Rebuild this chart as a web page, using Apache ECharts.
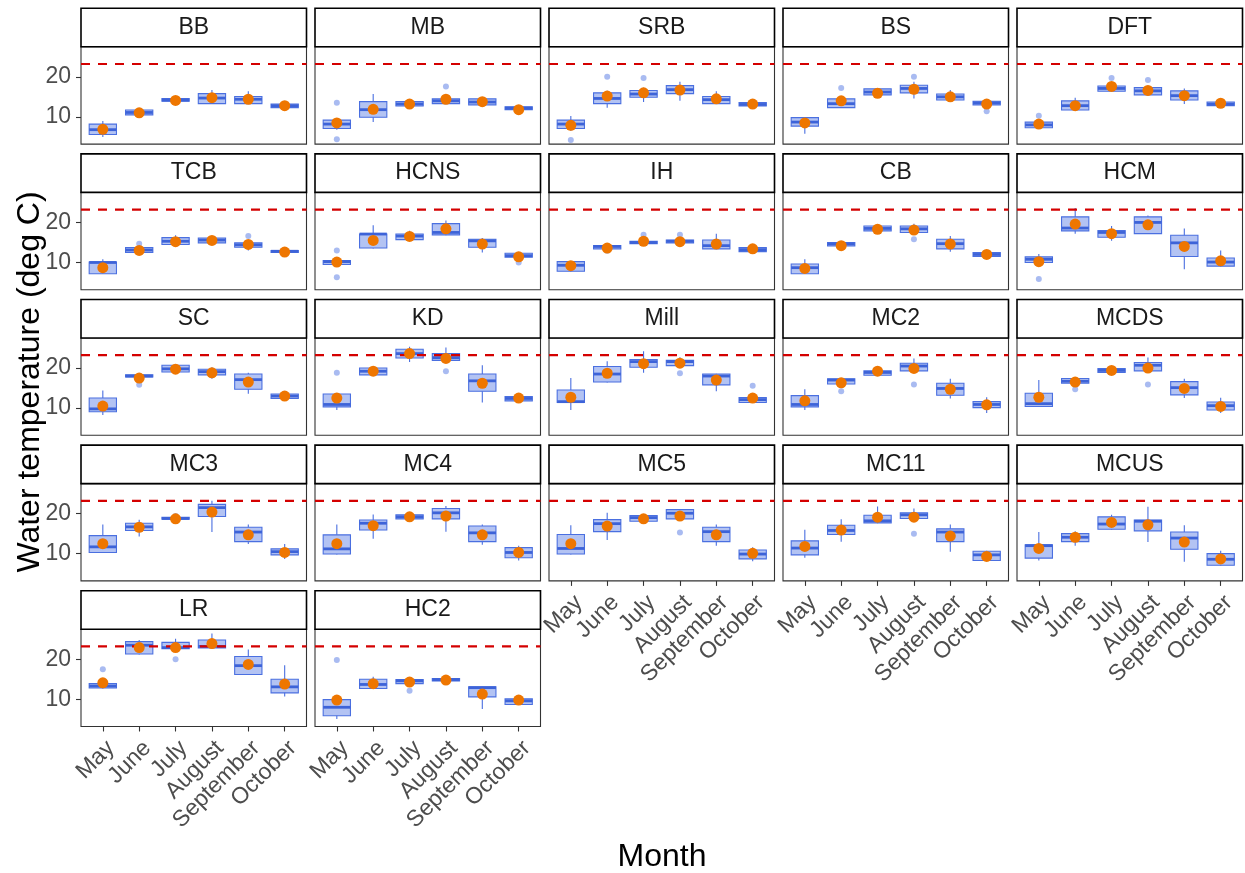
<!DOCTYPE html>
<html>
<head>
<meta charset="utf-8">
<script src="https://cdn.jsdelivr.net/npm/echarts@6/dist/echarts.min.js"></script>
<style>
  html, body { margin: 0; padding: 0; background: #ffffff; }
  #chart { width: 1245px; height: 873px; }
</style>
</head>
<body>
<div id="chart"></div>
<script>
// Monthly water temperature (deg C) by site: box summaries, monthly means, outliers.
const months = ['May', 'June', 'July', 'August', 'September', 'October'];
const yTicks = [10, 20];
const threshold = 23.2;

// Box rows per month: [lower whisker, Q1, median, Q3, upper whisker]
const BB_box = [[5.0, 5.6, 6.8, 8.2, 9.0], [10.3, 10.5, 11.1, 11.7, 11.9], [13.8, 13.9, 14.2, 14.6, 14.7], [13.2, 13.3, 14.7, 15.8, 16.7], [13.2, 13.3, 14.4, 15.1, 16.4], [12.2, 12.3, 12.8, 13.2, 13.3]];
const BB_mean = [6.9, 11.0, 14.1, 14.8, 14.4, 12.8];
const BB_out = [];

const MB_box = [[6.8, 7.1, 8.2, 9.2, 9.6], [8.7, 9.9, 11.8, 13.8, 15.7], [12.6, 12.7, 13.2, 13.8, 13.9], [13.2, 13.3, 14.0, 14.5, 15.2], [12.9, 13.0, 13.7, 14.5, 14.6], [11.7, 11.8, 12.2, 12.5, 12.6]];
const MB_mean = [8.5, 11.9, 13.2, 14.4, 13.8, 11.8];
const MB_out = [[0, 13.5], [0, 4.4], [3, 17.6]];

const SRB_box = [[6.5, 7.1, 8.2, 9.2, 10.2], [12.3, 13.3, 14.6, 16.0, 16.5], [13.7, 14.9, 15.7, 16.6, 17.3], [14.0, 15.8, 16.8, 17.8, 18.8], [13.2, 13.3, 14.3, 15.1, 16.4], [12.6, 12.7, 13.1, 13.6, 13.7]];
const SRB_mean = [7.9, 15.2, 16.0, 16.7, 14.5, 13.2];
const SRB_out = [[0, 4.2], [1, 20.0], [2, 19.7]];

const BS_box = [[5.8, 7.7, 8.7, 9.8, 9.9], [12.2, 12.3, 13.3, 14.5, 15.0], [15.4, 15.5, 16.2, 17.0, 17.1], [14.6, 16.0, 17.1, 17.9, 18.8], [14.1, 14.2, 15.0, 15.7, 16.7], [12.6, 13.0, 13.5, 13.9, 14.0]];
const BS_mean = [8.5, 14.0, 15.9, 16.9, 15.0, 13.2];
const BS_out = [[1, 17.2], [3, 20.0], [5, 11.4]];

const DFT_box = [[7.2, 7.3, 8.0, 8.7, 8.8], [11.6, 11.7, 12.8, 14.0, 14.8], [16.3, 16.4, 17.1, 17.7, 18.5], [15.4, 15.5, 16.5, 17.3, 17.4], [13.2, 14.2, 15.3, 16.5, 17.1], [12.7, 12.8, 13.2, 13.7, 13.8]];
const DFT_mean = [8.2, 12.8, 17.6, 16.6, 15.3, 13.4];
const DFT_out = [[0, 10.3], [2, 19.7], [3, 19.2]];

const TCB_box = [[7.1, 7.2, 10.0, 10.1, 10.8], [12.4, 12.5, 13.1, 13.7, 13.9], [14.4, 14.5, 15.3, 16.2, 16.8], [14.8, 14.9, 15.6, 16.1, 16.2], [13.0, 13.8, 14.4, 14.9, 15.0], [12.4, 12.5, 12.8, 13.0, 13.1]];
const TCB_mean = [8.7, 13.0, 15.2, 15.5, 14.5, 12.6];
const TCB_out = [[1, 14.7], [4, 16.6]];

const HCNS_box = [[9.4, 9.5, 10.2, 10.5, 10.6], [13.5, 13.6, 17.1, 17.1, 19.3], [15.6, 15.7, 16.6, 17.1, 17.9], [16.8, 16.9, 17.5, 19.7, 20.5], [12.5, 13.8, 15.4, 15.8, 16.1], [11.2, 11.3, 11.7, 12.3, 12.4]];
const HCNS_mean = [10.1, 15.5, 16.5, 18.4, 14.6, 11.4];
const HCNS_out = [[0, 13.0], [0, 6.3], [5, 10.0]];

const IH_box = [[7.7, 7.8, 9.3, 10.2, 10.3], [13.3, 13.4, 14.0, 14.2, 14.3], [14.6, 14.7, 15.0, 15.3, 15.4], [14.8, 14.9, 15.3, 15.6, 15.7], [13.3, 13.4, 14.2, 15.6, 17.2], [12.6, 12.7, 13.2, 13.7, 13.8]];
const IH_mean = [9.2, 13.6, 15.3, 15.2, 14.6, 13.4];
const IH_out = [[1, 12.9], [2, 16.9], [3, 16.9]];

const CB_box = [[7.1, 7.2, 8.7, 9.6, 10.8], [14.0, 14.1, 14.6, 15.0, 15.1], [17.8, 17.9, 18.5, 19.1, 19.2], [17.4, 17.5, 18.4, 19.1, 19.7], [12.7, 13.4, 14.7, 15.8, 16.6], [11.4, 11.5, 12.0, 12.5, 12.6]];
const CB_mean = [8.5, 14.2, 18.3, 18.1, 14.6, 12.0];
const CB_out = [[3, 15.8]];

const HCM_box = [[9.9, 10.0, 10.8, 11.4, 12.1], [17.2, 17.9, 18.6, 21.4, 23.6], [15.4, 16.3, 17.5, 18.0, 19.1], [17.1, 17.2, 20.0, 21.4, 21.7], [8.3, 11.5, 14.9, 16.8, 18.5], [9.0, 9.1, 10.1, 11.1, 13.0]];
const HCM_mean = [10.2, 19.6, 17.2, 19.4, 14.0, 10.4];
const HCM_out = [[0, 5.9]];

const SC_box = [[8.3, 9.1, 9.8, 12.5, 14.4], [17.7, 17.8, 18.0, 18.3, 18.4], [18.9, 19.0, 19.8, 20.7, 20.8], [17.3, 18.3, 19.1, 19.7, 20.2], [13.6, 14.7, 17.1, 18.5, 18.8], [12.3, 12.4, 13.0, 13.5, 13.6]];
const SC_mean = [10.5, 17.5, 19.7, 18.8, 16.5, 13.0];
const SC_out = [[1, 15.8]];

const KD_box = [[9.5, 10.3, 10.9, 13.5, 13.6], [18.2, 18.3, 19.2, 20.0, 20.1], [21.5, 22.5, 23.6, 24.7, 25.3], [21.8, 21.9, 22.6, 23.6, 25.1], [11.4, 14.2, 16.8, 18.5, 20.7], [11.7, 11.8, 12.4, 12.9, 13.0]];
const KD_mean = [12.5, 19.2, 23.6, 22.4, 16.2, 12.5];
const KD_out = [[0, 18.8], [3, 19.2]];

const Mill_box = [[9.5, 11.4, 11.6, 14.5, 17.5], [16.4, 16.5, 18.5, 20.4, 21.7], [18.8, 20.2, 21.6, 22.1, 24.2], [20.5, 20.6, 21.6, 21.9, 22.7], [14.2, 15.8, 18.0, 18.5, 18.6], [11.3, 11.4, 12.1, 12.6, 12.7]];
const Mill_mean = [12.7, 18.7, 21.1, 21.2, 17.0, 12.5];
const Mill_out = [[3, 18.7], [5, 15.6]];

const MC2_box = [[9.5, 10.3, 10.9, 13.1, 14.7], [15.9, 16.0, 17.0, 17.3, 17.4], [18.1, 18.2, 18.9, 19.3, 19.4], [19.2, 19.3, 20.5, 21.2, 22.4], [12.4, 13.2, 14.9, 16.2, 17.3], [8.8, 10.1, 10.9, 11.6, 12.7]];
const MC2_mean = [11.8, 16.3, 19.2, 19.9, 14.7, 10.8];
const MC2_out = [[1, 14.2], [3, 15.9]];

const MCDS_box = [[10.3, 10.4, 11.1, 13.7, 17.0], [16.1, 16.2, 16.7, 17.4, 17.5], [18.8, 18.9, 19.4, 19.9, 20.0], [19.2, 19.3, 20.7, 21.4, 22.6], [12.5, 13.3, 15.1, 16.6, 17.3], [8.8, 9.5, 10.6, 11.5, 12.6]];
const MCDS_mean = [12.7, 16.5, 19.4, 20.0, 14.9, 10.4];
const MCDS_out = [[1, 14.7], [3, 15.9]];

const MC3_box = [[10.2, 10.3, 11.7, 14.5, 17.3], [14.3, 15.8, 16.7, 17.6, 18.5], [18.5, 18.6, 18.8, 19.1, 19.2], [15.4, 19.3, 21.5, 22.3, 23.2], [12.4, 13.0, 15.4, 16.6, 17.3], [8.7, 9.7, 10.5, 11.2, 12.4]];
const MC3_mean = [12.5, 16.6, 18.7, 20.4, 14.7, 10.3];
const MC3_out = [[2, 19.4]];

const MC4_box = [[9.8, 9.9, 11.2, 14.7, 17.3], [13.7, 15.9, 17.6, 18.4, 19.8], [18.6, 18.7, 19.2, 19.7, 19.8], [15.5, 18.7, 20.2, 21.3, 21.9], [12.2, 13.0, 15.2, 16.9, 17.3], [8.3, 9.0, 10.3, 11.5, 12.0]];
const MC4_mean = [12.5, 17.0, 19.2, 19.4, 14.7, 10.3];
const MC4_out = [];

const MC5_box = [[9.8, 9.9, 11.3, 14.8, 17.1], [13.4, 15.5, 17.5, 18.5, 20.2], [18.0, 18.1, 19.0, 19.5, 19.6], [18.6, 18.7, 20.1, 21.0, 21.1], [12.0, 13.0, 15.5, 16.6, 17.3], [8.1, 8.7, 9.9, 10.9, 11.6]];
const MC5_mean = [12.5, 16.9, 18.7, 19.4, 14.7, 10.1];
const MC5_out = [[3, 15.3]];

const MC11_box = [[9.0, 9.7, 11.4, 13.2, 16.0], [13.0, 14.8, 15.8, 17.1, 18.6], [17.6, 17.7, 18.2, 19.6, 21.8], [18.7, 18.8, 19.7, 20.2, 21.3], [10.5, 13.0, 15.4, 16.2, 17.3], [8.2, 8.3, 9.7, 10.6, 10.7]];
const MC11_mean = [11.8, 15.9, 19.1, 19.1, 14.4, 9.3];
const MC11_out = [[3, 15.0]];

const MCUS_box = [[8.3, 8.9, 12.0, 12.2, 15.4], [12.0, 13.0, 14.1, 15.0, 15.6], [16.0, 16.1, 17.4, 19.2, 19.7], [12.9, 15.7, 18.1, 18.4, 21.7], [8.0, 11.1, 13.9, 15.4, 17.1], [7.0, 7.1, 8.6, 10.0, 10.7]];
const MCUS_mean = [11.3, 14.1, 17.8, 17.2, 12.9, 8.7];
const MCUS_out = [];

const LR_box = [[12.7, 12.8, 13.3, 13.9, 14.0], [21.2, 21.3, 23.5, 24.4, 24.8], [22.5, 22.6, 22.9, 24.2, 25.1], [22.7, 22.8, 23.2, 24.8, 26.4], [16.1, 16.2, 18.4, 20.7, 22.4], [10.7, 11.6, 13.1, 15.0, 18.5]];
const LR_mean = [14.1, 22.9, 22.9, 23.9, 18.7, 13.8];
const LR_out = [[0, 17.5], [2, 20.0]];

const HC2_box = [[5.1, 5.9, 8.0, 9.9, 10.0], [12.6, 12.7, 13.7, 15.0, 15.6], [13.8, 13.9, 14.6, 14.9, 15.0], [14.5, 14.6, 14.9, 15.2, 15.3], [7.6, 10.6, 12.9, 13.1, 13.2], [8.6, 8.7, 9.6, 10.1, 10.2]];
const HC2_mean = [9.8, 13.9, 14.3, 14.8, 11.3, 9.8];
const HC2_out = [[0, 19.8], [2, 12.1]];

// Facet order (wrapped into 5 columns)
const panels = [
  ['BB', BB_box, BB_mean, BB_out], ['MB', MB_box, MB_mean, MB_out], ['SRB', SRB_box, SRB_mean, SRB_out],
  ['BS', BS_box, BS_mean, BS_out], ['DFT', DFT_box, DFT_mean, DFT_out], ['TCB', TCB_box, TCB_mean, TCB_out],
  ['HCNS', HCNS_box, HCNS_mean, HCNS_out], ['IH', IH_box, IH_mean, IH_out], ['CB', CB_box, CB_mean, CB_out],
  ['HCM', HCM_box, HCM_mean, HCM_out], ['SC', SC_box, SC_mean, SC_out], ['KD', KD_box, KD_mean, KD_out],
  ['Mill', Mill_box, Mill_mean, Mill_out], ['MC2', MC2_box, MC2_mean, MC2_out], ['MCDS', MCDS_box, MCDS_mean, MCDS_out],
  ['MC3', MC3_box, MC3_mean, MC3_out], ['MC4', MC4_box, MC4_mean, MC4_out], ['MC5', MC5_box, MC5_mean, MC5_out],
  ['MC11', MC11_box, MC11_mean, MC11_out], ['MCUS', MCUS_box, MCUS_mean, MCUS_out], ['LR', LR_box, LR_mean, LR_out],
  ['HC2', HC2_box, HC2_mean, HC2_out]
];

// ---- layout ----
const FONT = '"Liberation Sans", Arial, sans-serif';
const NCOL = 5;
const colLeft = [81, 315, 549, 783, 1017];
const panelW = 225.5;
const stripTop = [8.3, 153.9, 299.5, 445.1, 590.7];
const stripH = 38.5;
const plotH = 97.3;
const X_MIN = -0.6, X_MAX = 5.6;
const Y_MIN = 3.2, Y_MAX = 27.5;

const BOX_FILL = 'rgba(65,105,225,0.4)';
const BOX_LINE = '#4a6fe0';
const MEDIAN_LINE = '#3d63d8';
const MEAN_COLOR = '#EE7600';
const OUTLIER_COLOR = 'rgba(65,105,225,0.45)';
const THRESH_COLOR = '#D40000';

function renderBox(params, api) {
  const x = api.value(0);
  const lo = api.coord([x, api.value(1)]);
  const q1 = api.coord([x, api.value(2)]);
  const md = api.coord([x, api.value(3)]);
  const q3 = api.coord([x, api.value(4)]);
  const hi = api.coord([x, api.value(5)]);
  const half = api.size([0.75, 0])[0] / 2;
  const cx = q1[0];
  const thin = { stroke: BOX_LINE, lineWidth: 1.1 };
  return {
    type: 'group',
    children: [
      { type: 'line', shape: { x1: cx, y1: hi[1], x2: cx, y2: q3[1] }, style: thin },
      { type: 'line', shape: { x1: cx, y1: q1[1], x2: cx, y2: lo[1] }, style: thin },
      { type: 'rect', shape: { x: cx - half, y: q3[1], width: half * 2, height: q1[1] - q3[1] },
        style: { fill: BOX_FILL, stroke: BOX_LINE, lineWidth: 1.1 } },
      { type: 'line', shape: { x1: cx - half, y1: md[1], x2: cx + half, y2: md[1] },
        style: { stroke: MEDIAN_LINE, lineWidth: 2.8 } }
    ]
  };
}

const grids = [], xAxes = [], yAxes = [], series = [], graphics = [];
const n = panels.length;

panels.forEach((p, i) => {
  const [name, box, mean, out] = p;
  const r = Math.floor(i / NCOL), c = i % NCOL;
  const left = colLeft[c];
  const top = stripTop[r] + stripH;
  const showX = i + NCOL >= n;
  const showY = c === 0;

  grids.push({
    left: left, top: top, width: panelW, height: plotH,
    show: true, borderColor: '#333333', borderWidth: 1.1, backgroundColor: '#ffffff',
    containLabel: false
  });

  xAxes.push({
    type: 'value', gridIndex: i, min: X_MIN, max: X_MAX, position: 'bottom',
    splitLine: { show: false },
    axisLine: { show: false, onZero: false },
    axisTick: { show: showX, customValues: [0, 1, 2, 3, 4, 5], length: 5,
      lineStyle: { color: '#333333', width: 1.1 } },
    axisLabel: {
      show: showX, customValues: [0, 1, 2, 3, 4, 5],
      formatter: v => months[Math.round(v)],
      rotate: 45, align: 'right', verticalAlign: 'top', margin: 10,
      fontSize: 23, color: '#4D4D4D', fontFamily: FONT
    }
  });

  yAxes.push({
    type: 'value', gridIndex: i, min: Y_MIN, max: Y_MAX, position: 'left',
    splitLine: { show: false },
    axisLine: { show: false, onZero: false },
    axisTick: { show: showY, customValues: yTicks, length: 5,
      lineStyle: { color: '#333333', width: 1.1 } },
    axisLabel: { show: showY, customValues: yTicks, margin: 10,
      fontSize: 23, color: '#4D4D4D', fontFamily: FONT }
  });

  series.push({
    type: 'custom', xAxisIndex: i, yAxisIndex: i, z: 2,
    renderItem: renderBox,
    encode: { x: 0, y: [1, 2, 3, 4, 5] },
    data: box.map((b, k) => [k].concat(b))
  });
  series.push({
    type: 'scatter', xAxisIndex: i, yAxisIndex: i, z: 2,
    symbolSize: 6, itemStyle: { color: OUTLIER_COLOR, opacity: 1 },
    data: out
  });
  series.push({
    type: 'line', xAxisIndex: i, yAxisIndex: i, z: 3,
    showSymbol: false, symbol: 'none', silent: true,
    lineStyle: { color: THRESH_COLOR, width: 2.2, type: [9, 8] },
    data: [[X_MIN, threshold], [X_MAX, threshold]]
  });
  series.push({
    type: 'scatter', xAxisIndex: i, yAxisIndex: i, z: 4,
    symbolSize: 11, itemStyle: { color: MEAN_COLOR, opacity: 1 },
    data: mean.map((v, k) => [k, v])
  });

  // facet strip
  graphics.push({
    type: 'group',
    children: [
      { type: 'rect', shape: { x: left, y: stripTop[r], width: panelW, height: stripH },
        style: { fill: '#ffffff', stroke: '#000000', lineWidth: 1.6 } },
      { type: 'text', x: left + panelW / 2, y: stripTop[r] + stripH / 2,
        style: { text: name, fontSize: 23, fill: '#1A1A1A', fontFamily: FONT,
          align: 'center', verticalAlign: 'middle' } }
    ]
  });
});

// axis titles
graphics.push({
  type: 'text', x: 662, y: 857,
  style: { text: 'Month', fontSize: 32, fill: '#000000', fontFamily: FONT,
    align: 'center', verticalAlign: 'middle' }
});
graphics.push({
  type: 'text', x: 30, y: 382, rotation: Math.PI / 2,
  style: { text: 'Water temperature (deg C)', fontSize: 32, fill: '#000000', fontFamily: FONT,
    align: 'center', verticalAlign: 'middle' }
});

const chart = echarts.init(document.getElementById('chart'), null, { renderer: 'canvas' });
chart.setOption({
  animation: false,
  backgroundColor: '#ffffff',
  textStyle: { fontFamily: FONT },
  grid: grids,
  xAxis: xAxes,
  yAxis: yAxes,
  series: series,
  graphic: graphics
});
</script>
</body>
</html>
